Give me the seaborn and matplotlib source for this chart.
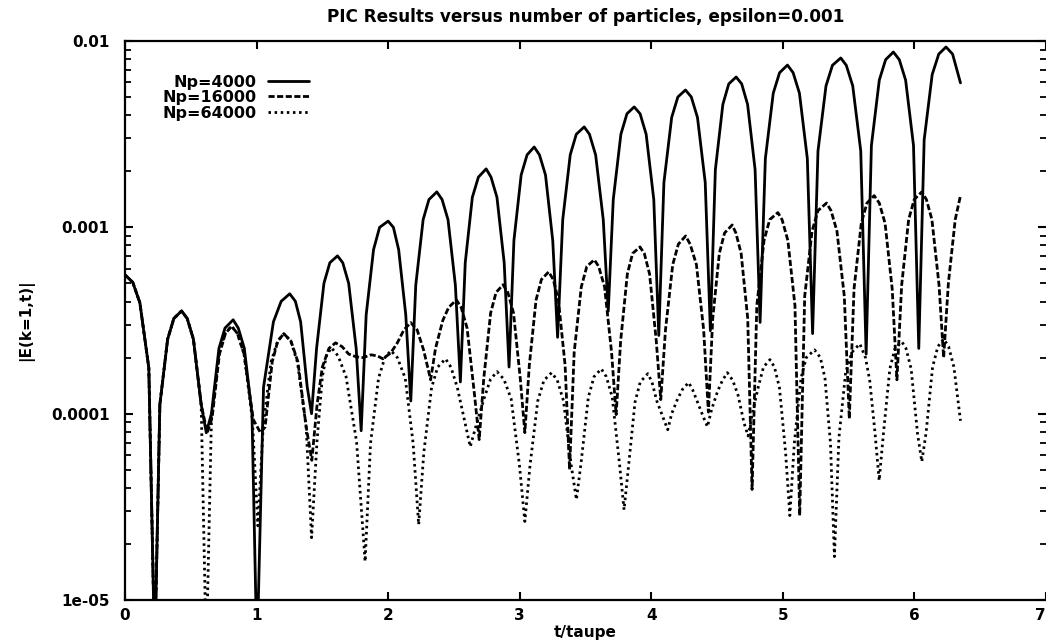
import numpy as np
import pandas as pd
import seaborn as sns
import matplotlib.pyplot as plt
from matplotlib.ticker import FixedLocator, FixedFormatter, LogLocator, NullFormatter

# values
t_np4000 = [0.000, 0.059, 0.113, 0.181, 0.226,
            0.265, 0.324, 0.371, 0.430, 0.473, 0.520, 0.579, 0.618,
            0.657, 0.714, 0.760, 0.822, 0.861, 0.907, 0.965, 1.003,
            1.053, 1.128, 1.187, 1.252, 1.295, 1.335, 1.385, 1.418,
            1.456, 1.512, 1.557, 1.615, 1.655, 1.700, 1.757, 1.795,
            1.833, 1.889, 1.935, 2.000, 2.040, 2.080, 2.134, 2.172,
            2.210, 2.266, 2.310, 2.370, 2.410, 2.455, 2.511, 2.549,
            2.586, 2.640, 2.686, 2.745, 2.782, 2.827, 2.882, 2.919,
            2.956, 3.011, 3.056, 3.110, 3.150, 3.196, 3.251, 3.288,
            3.327, 3.384, 3.430, 3.490, 3.530, 3.577, 3.635, 3.673,
            3.711, 3.769, 3.815, 3.870, 3.915, 3.961, 4.019, 4.057,
            4.096, 4.155, 4.202, 4.260, 4.304, 4.351, 4.410, 4.449,
            4.487, 4.544, 4.589, 4.645, 4.687, 4.732, 4.789, 4.827,
            4.867, 4.927, 4.975, 5.035, 5.078, 5.126, 5.186, 5.226,
            5.267, 5.328, 5.377, 5.440, 5.482, 5.531, 5.592, 5.633,
            5.673, 5.733, 5.781, 5.840, 5.885, 5.933, 5.993, 6.033,
            6.074, 6.135, 6.185, 6.240, 6.290, 6.350]
e_np4000 = [5.56e-4, 5.07e-4, 3.94e-4, 1.76e-4, 5.0e-6,
            1.12e-4, 2.51e-4, 3.24e-4, 3.56e-4, 3.24e-4, 2.51e-4, 1.12e-4, 7.9e-5,
            1.0e-4, 2.24e-4, 2.88e-4, 3.19e-4, 2.88e-4, 2.24e-4, 1.0e-4, 5.0e-6,
            1.39e-4, 3.11e-4, 4.01e-4, 4.40e-4, 4.01e-4, 3.11e-4, 1.39e-4, 1.0e-4,
            2.24e-4, 5.01e-4, 6.46e-4, 7.03e-4, 6.46e-4, 5.01e-4, 2.24e-4, 8.1e-5,
            3.39e-4, 7.59e-4, 1.0e-3, 1.08e-3, 1.0e-3, 7.59e-4, 3.39e-4, 1.17e-4,
            4.90e-4, 1.10e-3, 1.41e-3, 1.55e-3, 1.41e-3, 1.10e-3, 4.90e-4, 1.48e-4,
            6.46e-4, 1.45e-3, 1.86e-3, 2.06e-3, 1.86e-3, 1.45e-3, 6.46e-4, 1.78e-4,
            8.51e-4, 1.91e-3, 2.45e-3, 2.70e-3, 2.45e-3, 1.91e-3, 8.51e-4, 2.57e-4,
            1.10e-3, 2.45e-3, 3.16e-3, 3.46e-3, 3.16e-3, 2.45e-3, 1.10e-3, 3.55e-4,
            1.41e-3, 3.16e-3, 4.07e-3, 4.43e-3, 4.07e-3, 3.16e-3, 1.41e-3, 2.63e-4,
            1.74e-3, 3.89e-3, 5.01e-3, 5.46e-3, 5.01e-3, 3.89e-3, 1.74e-3, 2.79e-4,
            2.04e-3, 4.57e-3, 5.89e-3, 6.41e-3, 5.89e-3, 4.57e-3, 2.04e-3, 3.09e-4,
            2.34e-3, 5.25e-3, 6.76e-3, 7.43e-3, 6.76e-3, 5.25e-3, 2.34e-3, 2.69e-4,
            2.57e-3, 5.75e-3, 7.41e-3, 8.11e-3, 7.41e-3, 5.75e-3, 2.57e-3, 2.09e-4,
            2.75e-3, 6.17e-3, 7.94e-3, 8.73e-3, 7.94e-3, 6.17e-3, 2.75e-3, 2.24e-4,
            2.95e-3, 6.61e-3, 8.51e-3, 9.29e-3, 8.51e-3, 5.96e-3]

t_np16000 = [0.000, 0.059, 0.113, 0.181, 0.226,
             0.265, 0.324, 0.371, 0.430, 0.473, 0.520, 0.579, 0.625,
             0.662, 0.718, 0.763, 0.810, 0.855, 0.905, 0.975, 1.030,
             1.065, 1.119, 1.161, 1.207, 1.262, 1.314, 1.377, 1.420,
             1.460, 1.500, 1.550, 1.600, 1.650, 1.700, 1.757, 1.810, 1.870,
             1.920, 1.960, 2.020, 2.070, 2.120, 2.172, 2.220, 2.270, 2.323,
             2.360, 2.415, 2.460, 2.519, 2.555, 2.600, 2.655, 2.692,
             2.727, 2.779, 2.820, 2.873, 2.910, 2.953, 3.004, 3.039,
             3.073, 3.124, 3.165, 3.220, 3.255, 3.294, 3.345, 3.379,
             3.414, 3.468, 3.510, 3.567, 3.600, 3.645, 3.698, 3.733,
             3.767, 3.818, 3.858, 3.914, 3.947, 3.987, 4.038, 4.072,
             4.108, 4.163, 4.206, 4.261, 4.295, 4.343, 4.398, 4.434,
             4.467, 4.517, 4.557, 4.615, 4.643, 4.683, 4.733, 4.766,
             4.802, 4.857, 4.900, 4.962, 4.994, 5.038, 5.092, 5.128,
             5.166, 5.222, 5.267, 5.332, 5.366, 5.411, 5.467, 5.505,
             5.541, 5.596, 5.639, 5.694, 5.733, 5.777, 5.831, 5.867,
             5.903, 5.956, 5.998, 6.056, 6.091, 6.133, 6.187, 6.222,
             6.258, 6.310, 6.350]
e_np16000 = [5.56e-4, 5.07e-4, 3.94e-4, 1.76e-4, 5.0e-6,
             1.12e-4, 2.51e-4, 3.24e-4, 3.56e-4, 3.24e-4, 2.51e-4, 1.12e-4, 7.9e-5,
             9.5e-5, 2.09e-4, 2.69e-4, 2.95e-4, 2.69e-4, 2.09e-4, 9.3e-5, 7.9e-5,
             8.49e-5, 1.90e-4, 2.45e-4, 2.69e-4, 2.45e-4, 1.90e-4, 8.49e-5, 5.62e-5,
             1.12e-4, 1.78e-4, 2.24e-4, 2.40e-4, 2.29e-4, 2.09e-4, 2.02e-4, 2.0e-4, 2.07e-4,
             2.04e-4, 1.97e-4, 2.12e-4, 2.40e-4, 2.82e-4, 3.08e-4, 2.82e-4, 2.19e-4, 1.52e-4,
             2.24e-4, 3.16e-4, 3.72e-4, 4.08e-4, 3.72e-4, 2.88e-4, 1.29e-4, 7.26e-5,
             1.55e-4, 3.47e-4, 4.47e-4, 4.92e-4, 4.47e-4, 3.47e-4, 1.55e-4, 7.91e-5,
             1.82e-4, 4.07e-4, 5.25e-4, 5.77e-4, 5.25e-4, 4.07e-4, 1.82e-4, 5.01e-5,
             2.14e-4, 4.79e-4, 6.17e-4, 6.70e-4, 6.17e-4, 4.79e-4, 2.14e-4, 9.89e-5,
             2.45e-4, 5.62e-4, 7.24e-4, 7.85e-4, 7.24e-4, 5.62e-4, 2.45e-4, 1.19e-4,
             2.82e-4, 6.31e-4, 8.13e-4, 8.99e-4, 8.13e-4, 6.31e-4, 2.82e-4, 1.02e-4,
             3.24e-4, 7.24e-4, 9.33e-4, 1.03e-3, 9.33e-4, 7.24e-4, 3.24e-4, 3.92e-5,
             3.80e-4, 8.51e-4, 1.10e-3, 1.20e-3, 1.10e-3, 8.51e-4, 3.80e-4, 2.84e-5,
             4.27e-4, 9.55e-4, 1.23e-3, 1.35e-3, 1.23e-3, 9.55e-4, 4.27e-4, 9.4e-5,
             4.68e-4, 1.05e-3, 1.35e-3, 1.48e-3, 1.35e-3, 1.05e-3, 4.68e-4, 1.52e-4,
             4.90e-4, 1.10e-3, 1.41e-3, 1.55e-3, 1.41e-3, 1.10e-3, 4.90e-4, 2.0e-4,
             5.01e-4, 1.10e-3, 1.48e-3]

t_np64000 = [0.000, 0.059, 0.113, 0.181, 0.226,
             0.265, 0.324, 0.371, 0.430, 0.473, 0.520, 0.579, 0.618,
             0.657, 0.714, 0.760, 0.810, 0.855, 0.905, 0.968, 1.010,
             1.050, 1.110, 1.160, 1.207, 1.260, 1.310, 1.377, 1.418,
             1.459, 1.500, 1.530, 1.569, 1.620, 1.680, 1.760, 1.825,
             1.866, 1.927, 1.975, 2.021, 2.070, 2.130, 2.190, 2.232,
             2.271, 2.330, 2.377, 2.436, 2.477, 2.526, 2.585, 2.624,
             2.666, 2.728, 2.778, 2.828, 2.880, 2.935, 2.997, 3.039,
             3.078, 3.137, 3.184, 3.243, 3.286, 3.333, 3.392, 3.431,
             3.467, 3.522, 3.565, 3.620, 3.658, 3.703, 3.757, 3.793,
             3.826, 3.876, 3.916, 3.974, 4.005, 4.042, 4.095, 4.125,
             4.155, 4.200, 4.237, 4.284, 4.313, 4.352, 4.397, 4.427,
             4.458, 4.504, 4.541, 4.578, 4.619, 4.659, 4.705, 4.736,
             4.768, 4.815, 4.853, 4.902, 4.936, 4.974, 5.021, 5.053,
             5.087, 5.138, 5.178, 5.241, 5.285, 5.320, 5.362, 5.392,
             5.426, 5.477, 5.525, 5.585, 5.628, 5.660, 5.700, 5.732,
             5.764, 5.813, 5.852, 5.905, 5.936, 5.975, 6.024, 6.056,
             6.089, 6.138, 6.178, 6.222, 6.260, 6.300, 6.350]
e_np64000 = [5.56e-4, 5.07e-4, 3.94e-4, 1.76e-4, 5.0e-6,
             1.12e-4, 2.51e-4, 3.24e-4, 3.56e-4, 3.24e-4, 2.51e-4, 1.12e-4, 5.0e-6,
             9.5e-5, 2.09e-4, 2.69e-4, 2.95e-4, 2.69e-4, 2.09e-4, 9.3e-5, 2.5e-5,
             8.49e-5, 1.90e-4, 2.45e-4, 2.69e-4, 2.45e-4, 1.90e-4, 8.49e-5, 2.16e-5,
             7.08e-5, 1.58e-4, 2.04e-4, 2.26e-4, 2.04e-4, 1.58e-4, 7.08e-5, 1.61e-5,
             6.92e-5, 1.55e-4, 2.0e-4, 2.18e-4, 2.0e-4, 1.55e-4, 6.92e-5, 2.54e-5,
             6.17e-5, 1.38e-4, 1.78e-4, 1.97e-4, 1.78e-4, 1.38e-4, 8.91e-5, 6.65e-5,
             8.51e-5, 1.20e-4, 1.53e-4, 1.68e-4, 1.53e-4, 1.20e-4, 5.37e-5, 2.64e-5,
             5.25e-5, 1.17e-4, 1.51e-4, 1.66e-4, 1.51e-4, 1.17e-4, 5.25e-5, 3.46e-5,
             5.50e-5, 1.23e-4, 1.58e-4, 1.74e-4, 1.58e-4, 1.23e-4, 5.50e-5, 3.05e-5,
             5.13e-5, 1.15e-4, 1.48e-4, 1.64e-4, 1.48e-4, 1.17e-4, 9.33e-5, 8.2e-5,
             1.0e-4, 1.20e-4, 1.35e-4, 1.47e-4, 1.35e-4, 1.15e-4, 9.55e-5, 8.51e-5,
             1.05e-4, 1.32e-4, 1.51e-4, 1.66e-4, 1.51e-4, 1.26e-4, 8.91e-5, 7.59e-5,
             1.0e-4, 1.41e-4, 1.78e-4, 1.95e-4, 1.78e-4, 1.38e-4, 6.17e-5, 2.84e-5,
             6.92e-5, 1.55e-4, 2.0e-4, 2.20e-4, 2.0e-4, 1.55e-4, 6.92e-5, 1.71e-5,
             7.41e-5, 1.66e-4, 2.14e-4, 2.37e-4, 2.0e-4, 1.51e-4, 7.94e-5, 4.38e-5,
             7.76e-5, 1.74e-4, 2.24e-4, 2.43e-4, 2.24e-4, 1.74e-4, 7.76e-5, 5.53e-5,
             7.94e-5, 1.78e-4, 2.29e-4, 2.52e-4, 2.29e-4, 1.78e-4, 9.16e-5]

labels = ["Np=4000", "Np=16000", "Np=64000"]
x_ticks = [0, 1, 2, 3, 4, 5, 6, 7]
y_ticks = [1e-5, 1e-4, 1e-3, 1e-2]
y_tick_labels = ["1e-05", "0.0001", "0.001", "0.01"]

sns.set_theme(style="ticks")
plt.rcParams['font.family'] = ['DejaVu Sans']
plt.rcParams['font.weight'] = 'bold'
for key in ['text.color', 'axes.labelcolor', 'xtick.color', 'ytick.color',
            'xtick.labelcolor', 'ytick.labelcolor']:
    plt.rcParams[key] = 'black'

fig = plt.figure(figsize=(10.46, 6.44), dpi=100)
ax = fig.add_axes([0.1195, 0.0683, 0.8805, 0.868])

series = [(t_np4000, e_np4000), (t_np16000, e_np16000), (t_np64000, e_np64000)]
styles = [dict(linestyle='-'),
          dict(linestyle=(0, (2.2, 0.9))),
          dict(linestyle=(0, (0.9, 1.3)))]
for (t, e), lab, st in zip(series, labels, styles):
    df = pd.DataFrame({'t': t, 'E': e})
    sns.lineplot(data=df, x='t', y='E', ax=ax, color='black', lw=2.0,
                 estimator=None, sort=False, label=lab, **st)

ax.set_yscale('log')
ax.set_xlim(0, 7)
ax.set_ylim(1e-5, 1e-2)
ax.xaxis.set_major_locator(FixedLocator(x_ticks))
ax.set_xticklabels([str(v) for v in x_ticks])
ax.yaxis.set_major_locator(FixedLocator(y_ticks))
ax.yaxis.set_major_formatter(FixedFormatter(y_tick_labels))
ax.yaxis.set_minor_locator(LogLocator(base=10, subs=np.arange(2, 10)))
ax.yaxis.set_minor_formatter(NullFormatter())

ax.tick_params(which='both', direction='in', top=True, right=True, color='black')
ax.tick_params(axis='x', which='major', length=6, width=1.5, pad=6, labelsize=11)
ax.tick_params(axis='y', which='major', length=6, width=1.5, pad=11, labelsize=11)
ax.tick_params(axis='y', which='minor', length=4, width=1.3)
for lbl in ax.get_xticklabels() + ax.get_yticklabels():
    lbl.set_fontweight('bold')
# the last x label sits on the right edge of the page
ax.get_xticklabels()[-1].set_horizontalalignment('right')
for sp in ax.spines.values():
    sp.set_linewidth(1.6)
    sp.set_color('black')
ax.spines['right'].set_visible(False)

ax.set_title("PIC Results versus number of particles, epsilon=0.001",
             fontsize=12.2, fontweight='bold', pad=14)
ax.set_xlabel("t/taupe", fontsize=11, fontweight='bold', labelpad=1)
ax.set_ylabel("|E(k=1,t)|", fontsize=11, fontweight='bold', labelpad=12)

leg = ax.legend(loc='upper right', bbox_to_anchor=(0.2, 0.94), frameon=False,
                markerfirst=False, handlelength=2.6, handletextpad=0.7,
                labelspacing=0.03, borderpad=0, borderaxespad=0,
                prop={'size': 11.5, 'weight': 'bold'})

fig.savefig("out.png", dpi=100)
